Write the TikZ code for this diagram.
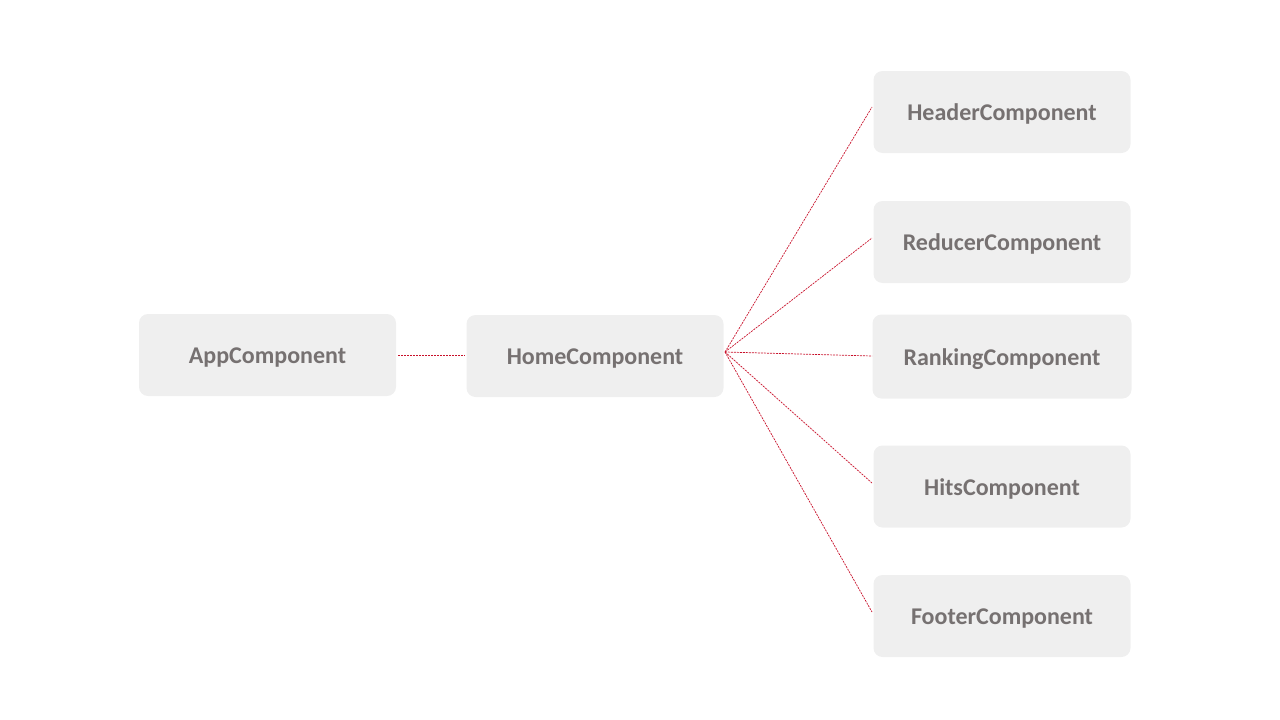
\documentclass[tikz,border=0pt]{standalone}
\usepackage{fontspec}
\setmainfont{Carlito}
\definecolor{boxfill}{HTML}{EFEFEF}
\definecolor{txtgray}{HTML}{767171}
\definecolor{linered}{HTML}{C8102A}
\begin{document}
\begin{tikzpicture}[x=1pt,y=-1pt,
  comp/.style={fill=boxfill, draw=none, rounded corners=9pt, minimum width=257pt, minimum height=82pt, inner sep=0pt,
    text=txtgray, font=\fontsize{24}{26}\selectfont\bfseries, text height=17pt, text depth=0pt},
  link/.style={draw=linered, dashed, dash pattern=on 2pt off 1pt, line width=0.7pt}]
\useasboundingbox (0,0) rectangle (1280,720);
\node[comp] (app) at (267.5,355) {AppComponent};
\node[comp] (home) at (595,356) {HomeComponent};
\node[comp] (header) at (1002,112) {HeaderComponent};
\node[comp] (reducer) at (1002,242) {ReducerComponent};
\node[comp, minimum width=259pt, minimum height=84pt] (ranking) at (1002,356.5) {RankingComponent};
\node[comp] (hits) at (1002,486.5) {HitsComponent};
\node[comp] (footer) at (1002,616) {FooterComponent};
\coordinate (hub) at (725,352);
\coordinate (append) at (398,355);
\coordinate (homein) at (465,355);
\draw[link] (append) -- (homein);
\coordinate (h1) at (872,107);
\coordinate (h2) at (872,238);
\coordinate (h3) at (872,356);
\coordinate (h4) at (872,483);
\coordinate (h5) at (872,612);
\foreach \t in {h1,h2,h3,h4,h5} \draw[link] (hub) -- (\t);
\end{tikzpicture}
\end{document}
